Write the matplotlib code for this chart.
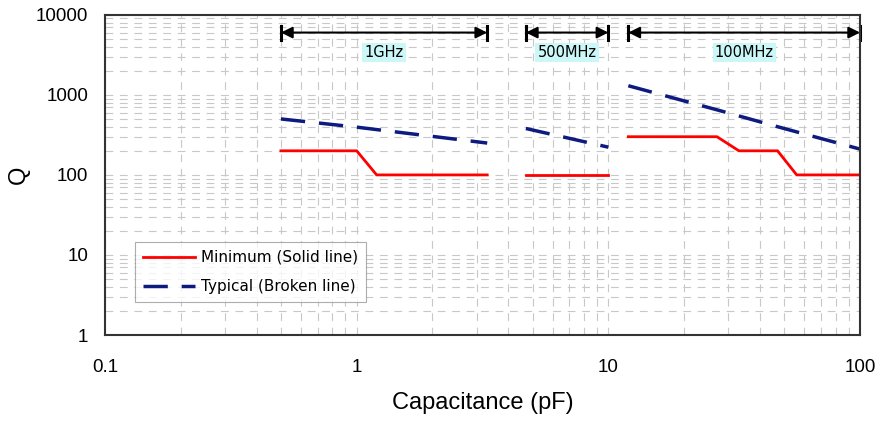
import matplotlib.pyplot as plt
import numpy as np

# Minimalne Q (linia ciągła)
min_1g_c = [0.5, 1.0, 1.2, 3.3]
min_1g_q = [200, 200, 100, 100]
min_500_c = [4.7, 10]
min_500_q = [100, 100]
min_100_c = [12, 27, 33, 47, 56, 100]
min_100_q = [300, 300, 200, 200, 100, 100]

# Typowe Q (linia przerywana)
typ_1g_c = [0.5, 1.0, 3.3]
typ_1g_q = [500, 395, 250]
typ_500_c = [4.7, 10]
typ_500_q = [380, 222]
typ_100_c = [12, 27, 47, 100]
typ_100_q = [1300, 650, 400, 210]

# Zakresy częstotliwości
band_labels = ['1GHz', '500MHz', '100MHz']
band_start = [0.5, 4.7, 12]
band_end = [3.3, 10, 100]
arrow_q = 6000
label_q = 3400

red = '#ff0000'
navy = '#0d1a80'

fig = plt.figure(figsize=(8.78, 4.23), dpi=100)
ax = fig.add_axes([0.1196, 0.208, 0.86, 0.757])
ax.set_xscale('log')
ax.set_yscale('log')
ax.set_xlim(0.1, 100)
ax.set_ylim(1, 10000)

ax.grid(True, which='both', color='#c8c8c8', linestyle=(0, (7, 6)), linewidth=0.8)
ax.set_axisbelow(True)

dash = (0, (7, 4))
ax.plot(min_1g_c, min_1g_q, color=red, lw=2, label='Minimum (Solid line)')
ax.plot(min_500_c, min_500_q, color=red, lw=2)
ax.plot(min_100_c, min_100_q, color=red, lw=2)
ax.plot(typ_1g_c, typ_1g_q, color=navy, lw=2.5, linestyle=dash, label='Typical (Broken line)')
ax.plot(typ_500_c, typ_500_q, color=navy, lw=2.5, linestyle=dash)
ax.plot(typ_100_c, typ_100_q, color=navy, lw=2.5, linestyle=dash)

for lab, s, e in zip(band_labels, band_start, band_end):
    ax.annotate('', xy=(e, arrow_q), xytext=(s, arrow_q),
                arrowprops=dict(arrowstyle='<|-|>', color='black', lw=1.5,
                                mutation_scale=17, shrinkA=0, shrinkB=0))
    for x in (s, e):
        ax.plot([x, x], [arrow_q * 0.8, arrow_q * 1.22], color='black', lw=2.2, clip_on=False)
    xm = np.sqrt(s * e)
    ax.text(xm, label_q, lab, ha='center', va='center', fontsize=10.5,
            family='DejaVu Sans',
            bbox=dict(boxstyle='square,pad=0.15', facecolor='#ccf7f7', edgecolor='none'))

ax.set_xticks([0.1, 1, 10, 100])
ax.set_xticklabels(['0.1', '1', '10', '100'])
ax.set_yticks([1, 10, 100, 1000, 10000])
ax.set_yticklabels(['1', '10', '100', '1000', '10000'])
ax.tick_params(which='both', length=0, labelsize=13.5)
ax.tick_params(axis='x', pad=17)
ax.tick_params(axis='y', pad=12)
for t in ax.get_xticklabels() + ax.get_yticklabels():
    t.set_family('Liberation Sans')

for sp in ax.spines.values():
    sp.set_color('#333333')
    sp.set_linewidth(1.5)

ax.set_xlabel('Capacitance (pF)', fontsize=17, family='Liberation Sans', labelpad=12)
ax.set_ylabel('Q', fontsize=17, family='Liberation Sans')
ax.yaxis.set_label_coords(-0.1, 0.5)

leg = ax.legend(loc='lower left', bbox_to_anchor=(0.04, 0.103), borderaxespad=0,
                prop={'family': 'DejaVu Sans', 'size': 11},
                frameon=True, fancybox=False, handlelength=3.4, borderpad=0.5,
                labelspacing=0.95, handletextpad=0.4)
leg.get_frame().set_edgecolor('#999999')
leg.get_frame().set_linewidth(0.8)

plt.savefig('out.png', dpi=100)
